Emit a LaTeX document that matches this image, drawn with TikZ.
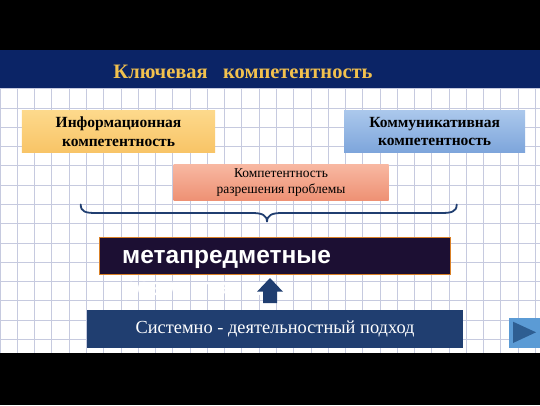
\documentclass[tikz,border=0pt]{standalone}
\usepackage{fontspec}
\setmainfont{Liberation Serif}
\newfontfamily\sansf{Liberation Sans}
\definecolor{hdr}{HTML}{0B2466}
\definecolor{gold}{HTML}{F2C14E}
\definecolor{gridc}{HTML}{C6CADF}
\definecolor{navy}{HTML}{203E70}
\definecolor{meta}{HTML}{1C0F33}
\definecolor{playc}{HTML}{5B9BD5}
\definecolor{playt}{HTML}{2E5E92}
\definecolor{orT}{HTML}{FDD98C}
\definecolor{orB}{HTML}{F8C466}
\definecolor{blT}{HTML}{ABC8EC}
\definecolor{blB}{HTML}{7DA5DB}
\definecolor{saT}{HTML}{F8B8A2}
\definecolor{saB}{HTML}{EE9174}
\tikzset{
  cbox/.style={anchor=north west, inner sep=0pt, align=center, text=black},
}
\begin{document}
\begin{tikzpicture}[x=1pt,y=-1pt]
\useasboundingbox (0,0) rectangle (540,405);
\fill[black] (0,0) rectangle (540,405);
\fill[white] (0,88) rectangle (540,353);
\begin{scope}
\clip (0,88) rectangle (540,353);
\foreach \k in {0,...,31} {\draw[gridc, line width=0.7pt] (\k*17.27,88) -- (\k*17.27,353);}
\foreach \k in {0,...,13} {\draw[gridc, line width=0.7pt] (0,88.7+\k*19.27) -- (540,88.7+\k*19.27);}
\end{scope}
\fill[hdr] (0,50) rectangle (540,88);
\node[text=gold, font=\bfseries\fontsize{20.5}{24}\selectfont] (title) at (243,72) {Ключевая\ \ \ компетентность};
% boxes
\node[cbox, minimum width=193.3pt, minimum height=42.7pt, top color=orT, bottom color=orB,
      font=\bfseries\fontsize{15.5}{18.5}\selectfont] (info) at (21.7,110) {Информационная\\компетентность};
\node[cbox, minimum width=181pt, minimum height=42.3pt, top color=blT, bottom color=blB,
      font=\bfseries\fontsize{15.5}{18.5}\selectfont] (comm) at (344,110) {Коммуникативная\\компетентность};
\node[cbox, minimum width=215pt, minimum height=36pt, top color=saT, bottom color=saB,
      font=\fontsize{13.5}{15.5}\selectfont] (prob) at (173.3,164)
      {\raisebox{-3.5pt}{\begin{tabular}{@{}c@{}}Компетентность\\разрешения проблемы\end{tabular}}};
% brace
\coordinate (bl) at (80.7,204.5);
\coordinate (br) at (456.7,204.5);
\coordinate (bt) at (267,222);
\draw[navy, line width=1.8pt, line cap=round]
  (bl) .. controls (80.7,212) and (86,213) .. (96,213) -- (252,213)
  .. controls (262,213) and (267,215) .. (bt)
  .. controls (267,215) and (272,213) .. (282,213) -- (441,213)
  .. controls (451,213) and (456.7,212) .. (br);
% meta box
\fill[meta] (99,236.7) rectangle (450,274);
\draw[orange!40!brown, line width=0.4pt] (99,236.7) rectangle (450,274);
\node[anchor=base west, inner sep=0pt, text=white, font=\sansf\bfseries\fontsize{24.5}{32}\selectfont] (meta) at (122,263) {метапредметные};
\node[anchor=base west, inner sep=0pt, text=white, font=\sansf\bfseries\fontsize{24.5}{32}\selectfont] (res) at (122,295) {результаты};
% bottom box
\node[anchor=north west, minimum width=376.3pt, minimum height=38pt, fill=navy, inner sep=0pt, text=white,
      font=\fontsize{18.4}{20}\selectfont] (sda) at (86.7,309.3) {Системно - деятельностный подход};
% arrow
\fill[navy] (263,303) -- (263,291.7) -- (257,291.7) -- (270,278) -- (283,291.7) -- (277,291.7) -- (277,303) -- cycle;
% play button
\node[anchor=north west, minimum width=32pt, minimum height=30pt, fill=playc, inner sep=0pt] (play) at (508.3,317.3) {};
\fill[playt] (513,321.7) -- (536,332.3) -- (513,343) -- cycle;
\end{tikzpicture}
\end{document}
